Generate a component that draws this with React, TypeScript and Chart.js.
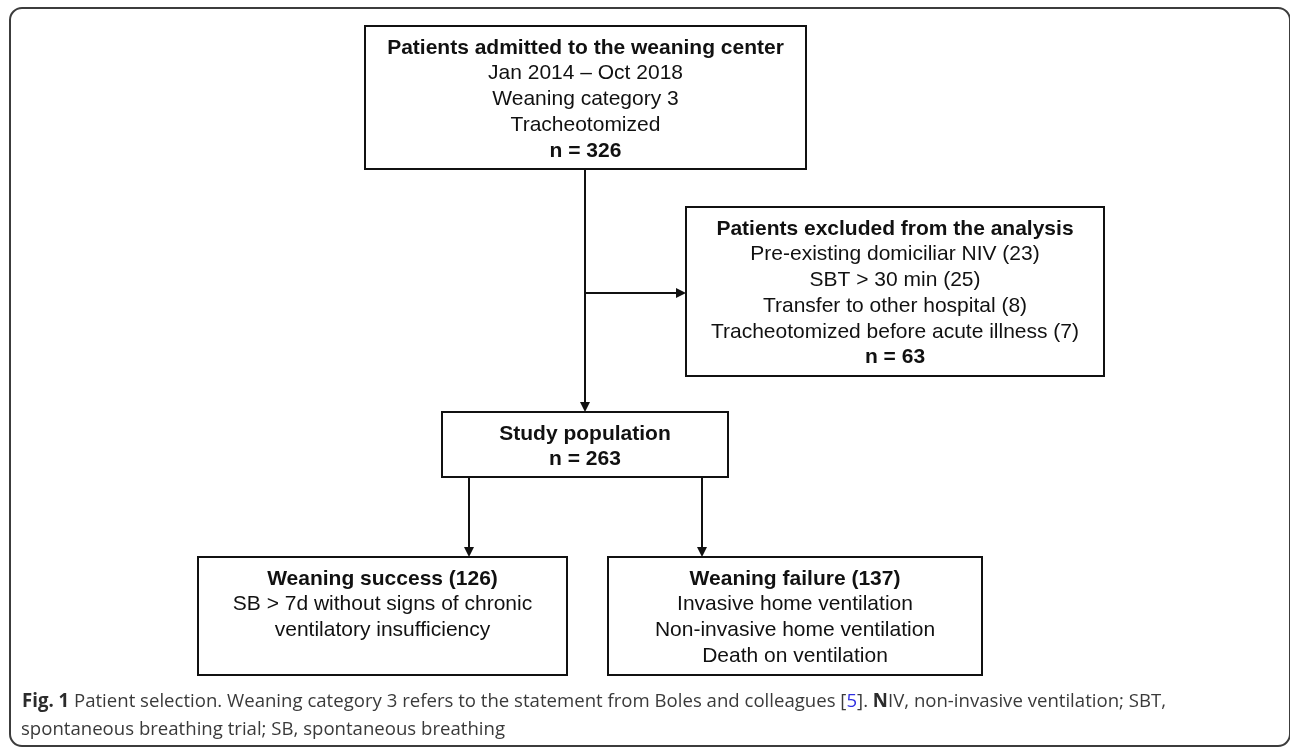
import React, { useEffect, useRef } from "react";
import { Chart, registerables } from "chart.js";

Chart.register(...registerables);

// ---- data ----
const admittedCriteria = ["Jan 2014 – Oct 2018", "Weaning category 3", "Tracheotomized"];
const admittedCount = [326];
const exclusionReasons = [
  "Pre-existing domiciliar NIV",
  "SBT > 30 min",
  "Transfer to other hospital",
  "Tracheotomized before acute illness",
];
const exclusionCounts = [23, 25, 8, 7];
const excludedTotal = [63];
const studyCount = [263];
const outcomeLabels = ["Weaning success", "Weaning failure"];
const outcomeCounts = [126, 137];
const successCriteria = ["SB > 7d without signs of chronic", "ventilatory insufficiency"];
const failureCriteria = ["Invasive home ventilation", "Non-invasive home ventilation", "Death on ventilation"];

type Line = { text: string; bold: boolean };

const nodeLines: Line[][] = [
  [
    { text: "Patients admitted to the weaning center", bold: true },
    ...admittedCriteria.map((t) => ({ text: t, bold: false })),
    { text: `n = ${admittedCount[0]}`, bold: true },
  ],
  [
    { text: "Patients excluded from the analysis", bold: true },
    ...exclusionReasons.map((t, i) => ({ text: `${t} (${exclusionCounts[i]})`, bold: false })),
    { text: `n = ${excludedTotal[0]}`, bold: true },
  ],
  [
    { text: "Study population", bold: true },
    { text: `n = ${studyCount[0]}`, bold: true },
  ],
  [
    { text: `${outcomeLabels[0]} (${outcomeCounts[0]})`, bold: true },
    ...successCriteria.map((t) => ({ text: t, bold: false })),
  ],
  [
    { text: `${outcomeLabels[1]} (${outcomeCounts[1]})`, bold: true },
    ...failureCriteria.map((t) => ({ text: t, bold: false })),
  ],
];

// ---- layout (scale units) ----
const nodeRects = [
  { l: 365, t: 26, r: 806, b: 169 },
  { l: 686, t: 207, r: 1104, b: 376 },
  { l: 442, t: 412, r: 728, b: 477 },
  { l: 198, t: 557, r: 567, b: 675 },
  { l: 608, t: 557, r: 982, b: 675 },
];
const arrowPaths = [
  { x1: 585, y1: 169, x2: 585, y2: 412 },
  { x1: 585, y1: 293, x2: 686, y2: 293 },
  { x1: 469, y1: 477, x2: 469, y2: 557 },
  { x1: 702, y1: 477, x2: 702, y2: 557 },
];

const captionLine1 = [
  { text: "Fig. 1", bold: true, color: "#2b2b2b" },
  { text: " Patient selection. Weaning category 3 refers to the statement from Boles and colleagues [", bold: false, color: "#3a3a3a" },
  { text: "5", bold: false, color: "#2f2fe0" },
  { text: "]. ", bold: false, color: "#3a3a3a" },
  { text: "N", bold: true, color: "#2b2b2b" },
  { text: "IV, non-invasive ventilation; SBT,", bold: false, color: "#3a3a3a" },
];
const captionLine2 = [
  { text: "spontaneous breathing trial; SB, spontaneous breathing", bold: false, color: "#3a3a3a" },
];

const flowPlugin = {
  id: "flow",
  afterDraw(chart: any) {
    const ctx: CanvasRenderingContext2D = chart.ctx;
    const xs = chart.scales.x;
    const ys = chart.scales.y;
    const px = (v: number) => xs.getPixelForValue(v);
    const py = (v: number) => ys.getPixelForValue(v);

    ctx.save();
    // outer frame
    ctx.strokeStyle = "#3c3c3c";
    ctx.lineWidth = 2;
    const fl = px(10), ft = py(8), fr = px(1290), fb = py(746), rad = 12;
    ctx.beginPath();
    ctx.moveTo(fl + rad, ft);
    ctx.lineTo(fr - rad, ft);
    ctx.arcTo(fr, ft, fr, ft + rad, rad);
    ctx.lineTo(fr, fb - rad);
    ctx.arcTo(fr, fb, fr - rad, fb, rad);
    ctx.lineTo(fl + rad, fb);
    ctx.arcTo(fl, fb, fl, fb - rad, rad);
    ctx.lineTo(fl, ft + rad);
    ctx.arcTo(fl, ft, fl + rad, ft, rad);
    ctx.closePath();
    ctx.stroke();

    // boxes
    ctx.strokeStyle = "#111";
    ctx.lineWidth = 2;
    nodeRects.forEach((r, i) => {
      const l = px(r.l), t = py(r.t), rr = px(r.r), b = py(r.b);
      ctx.strokeRect(l, t, rr - l, b - t);
      const cx = (l + rr) / 2;
      ctx.fillStyle = "#111";
      ctx.textAlign = "center";
      ctx.textBaseline = "middle";
      nodeLines[i].forEach((ln, k) => {
        ctx.font = `${ln.bold ? "bold " : ""}21px "Liberation Sans", Arial, sans-serif`;
        ctx.fillText(ln.text, cx, t + 22 + k * 25.7);
      });
    });

    // arrows
    ctx.fillStyle = "#111";
    arrowPaths.forEach((a) => {
      const x1 = px(a.x1), y1 = py(a.y1), x2 = px(a.x2), y2 = py(a.y2);
      const ang = Math.atan2(y2 - y1, x2 - x1);
      const hl = 10, hw = 5;
      ctx.beginPath();
      ctx.moveTo(x1, y1);
      ctx.lineTo(x2 - Math.cos(ang) * hl, y2 - Math.sin(ang) * hl);
      ctx.stroke();
      ctx.beginPath();
      ctx.moveTo(x2, y2);
      ctx.lineTo(x2 - Math.cos(ang) * hl - Math.sin(ang) * hw, y2 - Math.sin(ang) * hl + Math.cos(ang) * hw);
      ctx.lineTo(x2 - Math.cos(ang) * hl + Math.sin(ang) * hw, y2 - Math.sin(ang) * hl - Math.cos(ang) * hw);
      ctx.closePath();
      ctx.fill();
    });

    // caption
    const capFont = (bold: boolean) => `${bold ? "bold " : ""}19px "Open Sans", "Noto Sans", sans-serif`;
    const measure = (segs: any[]) =>
      segs.reduce((w, s) => {
        ctx.font = capFont(s.bold);
        return w + ctx.measureText(s.text).width;
      }, 0);
    const w1 = measure(captionLine1);
    const sx = (px(1166) - px(22)) / w1;
    const drawLine = (segs: any[], x0: number, y0: number) => {
      ctx.save();
      ctx.translate(x0, y0);
      ctx.scale(sx, 1);
      let x = 0;
      ctx.textAlign = "left";
      ctx.textBaseline = "alphabetic";
      segs.forEach((s) => {
        ctx.font = capFont(s.bold);
        ctx.fillStyle = s.color;
        ctx.fillText(s.text, x, 0);
        x += ctx.measureText(s.text).width;
      });
      ctx.restore();
    };
    drawLine(captionLine1, px(22), py(707));
    drawLine(captionLine2, px(21), py(735));
    ctx.restore();
  },
};

export default function App() {
  const ref = useRef<HTMLCanvasElement | null>(null);
  useEffect(() => {
    if (!ref.current) return;
    const chart = new Chart(ref.current, {
      type: "scatter",
      data: { datasets: [{ data: [], pointRadius: 0 }] },
      options: {
        animation: false,
        responsive: false,
        devicePixelRatio: 1,
        layout: { padding: 0 },
        plugins: { legend: { display: false }, tooltip: { enabled: false } },
        scales: {
          x: { type: "linear", min: 0, max: 1290, display: false },
          y: { type: "linear", min: 0, max: 747, reverse: true, display: false },
        },
      },
      plugins: [flowPlugin],
    });
    return () => chart.destroy();
  }, []);
  return (
    <div style={{ position: "fixed", left: 0, top: 0, width: 1290, height: 747, background: "#fff" }}>
      <canvas ref={ref} width={1290} height={747} style={{ width: 1290, height: 747, display: "block" }} />
    </div>
  );
}
